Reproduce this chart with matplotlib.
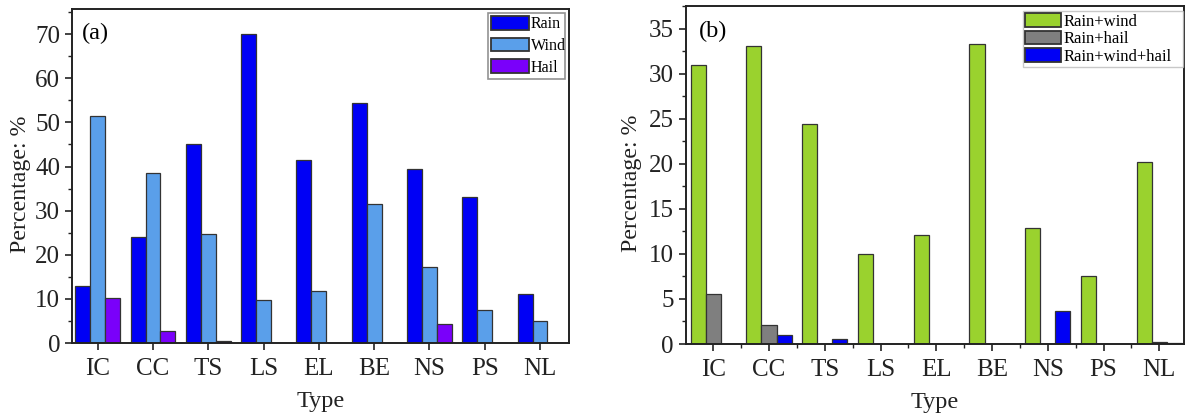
import matplotlib
matplotlib.use("Agg")
import matplotlib.pyplot as plt
from matplotlib.ticker import MultipleLocator
import numpy as np

plt.rcParams['font.family'] = ['Liberation Serif', 'DejaVu Serif']

types = ["IC", "CC", "TS", "LS", "EL", "BE", "NS", "PS", "NL"]

rain = [13.0, 24.0, 45.0, 70.0, 41.5, 54.3, 39.4, 33.2, 11.0]
wind = [51.4, 38.5, 24.8, 9.8, 11.7, 31.5, 17.2, 7.5, 4.9]
hail = [10.1, 2.8, 0.4, 0.0, 0.0, 0.0, 4.4, 0.0, 0.0]

rain_wind = [31.0, 33.1, 24.4, 10.0, 12.1, 33.3, 12.9, 7.6, 20.2]
rain_hail = [5.6, 2.1, 0.0, 0.0, 0.0, 0.0, 0.0, 0.0, 0.2]
rain_wind_hail = [0.0, 0.95, 0.55, 0.0, 0.0, 0.0, 3.65, 0.0, 0.1]

fig = plt.figure(figsize=(11.92, 4.18), dpi=100)
ax1 = fig.add_axes([0.0604, 0.1794, 0.4169, 0.7991])
ax2 = fig.add_axes([0.5752, 0.1770, 0.4181, 0.8086])

x = np.arange(len(types))
w = 0.27
edge = '#333333'


def style(ax, ymax, ymaj, ymin, minor_x, ylab_xy, xlab_y):
    ax.set_xticks(x)
    ax.set_xticklabels(types)
    ax.yaxis.set_major_locator(MultipleLocator(ymaj))
    ax.yaxis.set_minor_locator(MultipleLocator(ymin))
    if minor_x:
        ax.set_xticks(x[:-1] + 0.5, minor=True)
    ax.tick_params(axis='both', which='major', direction='out', length=5, width=1.2,
                   labelsize=18, pad=3.5, colors='#222222')
    ax.tick_params(axis='x', which='major', pad=6.0)
    ax.tick_params(axis='both', which='minor', direction='out', length=2.6, width=1.0, colors='#222222')
    ax.set_ylim(0, ymax)
    for s in ax.spines.values():
        s.set_linewidth(1.4)
        s.set_color('#222222')
    ax.set_xlabel("Type", fontsize=17.5, color='#222222')
    ax.set_ylabel("Percentage: %", fontsize=17.2, color='#222222')
    ax.yaxis.set_label_coords(*ylab_xy)
    ax.xaxis.set_label_coords(0.5, xlab_y)


ax1.bar(x - w, rain, w, color='#0000F5', edgecolor=edge, linewidth=0.9, label='Rain')
ax1.bar(x, wind, w, color='#5A9FEA', edgecolor=edge, linewidth=0.9, label='Wind')
ax1.bar(x + w, hail, w, color='#7A00FA', edgecolor=edge, linewidth=0.9, label='Hail')
ax1.set_xlim(-0.465, 8.524)
style(ax1, 75.7, 10, 5, False, (-0.082, 0.476), -0.145)
ax1.text(0.02, 0.926, "(a)", transform=ax1.transAxes, fontsize=17.5, va='center', ha='left')
leg1 = ax1.legend(loc='upper left', bbox_to_anchor=(0.8364, 0.5, 0.1555, 0.489), mode='expand',
                  fontsize=11.5, frameon=True, fancybox=False,
                  handlelength=2.4, handleheight=0.95, handletextpad=0.1, labelspacing=0.33,
                  borderpad=0.2, borderaxespad=0.0)
leg1.get_frame().set_edgecolor('#777777')
leg1.get_frame().set_linewidth(1.2)
for p in leg1.get_patches():
    p.set_linewidth(1.3)

ax2.bar(x - w, rain_wind, w, color='#9AD22E', edgecolor=edge, linewidth=0.9, label='Rain+wind')
ax2.bar(x, rain_hail, w, color='#7F7F7F', edgecolor=edge, linewidth=0.9, label='Rain+hail')
ax2.bar(x + w, rain_wind_hail, w, color='#0000F5', edgecolor=edge, linewidth=0.9, label='Rain+wind+hail')
ax2.set_xlim(-0.495, 8.443)
style(ax2, 37.5, 5, 2.5, True, (-0.088, 0.476), -0.142)
ax2.text(0.027, 0.926, "(b)", transform=ax2.transAxes, fontsize=17.5, va='center', ha='left')
leg2 = ax2.legend(loc='upper left', bbox_to_anchor=(0.677, 0.5, 0.321, 0.485), mode='expand',
                  fontsize=12, frameon=True, fancybox=False,
                  handlelength=2.15, handleheight=0.9, handletextpad=0.15, labelspacing=0.05,
                  borderpad=0.12, borderaxespad=0.0)
leg2.get_frame().set_edgecolor('#BBBBBB')
leg2.get_frame().set_linewidth(1.0)
for p in leg2.get_patches():
    p.set_linewidth(1.3)

fig.savefig("out.png", dpi=100)
